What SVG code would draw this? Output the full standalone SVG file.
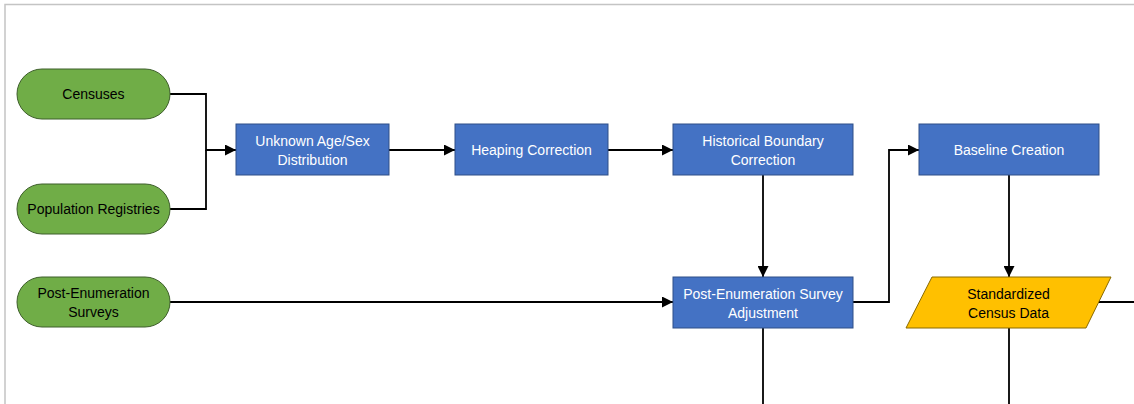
<svg xmlns="http://www.w3.org/2000/svg" width="1134" height="404" viewBox="0 0 1134 404">
<style>
.bg{fill:#ffffff}
.frame{fill:none;stroke:#c4c4c4;stroke-width:1.5}
.term{fill:#70ad47;stroke:#3d5e2a;stroke-width:1}
.proc{fill:#4472c4;stroke:#2f4f87;stroke-width:1}
.data{fill:#ffc000;stroke:#8a6a00;stroke-width:1}
.tb{font-family:"Liberation Sans",Arial,sans-serif;font-size:14px;fill:#000000;text-anchor:middle}
.tw{font-family:"Liberation Sans",Arial,sans-serif;font-size:14px;fill:#ffffff;text-anchor:middle}
.conn{fill:none;stroke:#000000;stroke-width:1.8}
</style>
<defs>
<marker id="arr" viewBox="0 0 10 10" refX="10" refY="5" markerWidth="11" markerHeight="11" markerUnits="userSpaceOnUse" orient="auto">
<path d="M0,0 L10,5 L0,10 Z" fill="#000000"/>
</marker>
</defs>
<rect class="bg" x="0" y="0" width="1134" height="404"/>
<path class="frame" d="M5,404 L5,4.5 L1134,4.5"/>
<g id="connectors">
<path class="conn" d="M170,94 H206 V150 H236" marker-end="url(#arr)"/>
<path class="conn" d="M170,209 H206 V150"/>
<path class="conn" d="M389,150 H455" marker-end="url(#arr)"/>
<path class="conn" d="M608,150 H673" marker-end="url(#arr)"/>
<path class="conn" d="M763,175 V277" marker-end="url(#arr)"/>
<path class="conn" d="M170,302 H673" marker-end="url(#arr)"/>
<path class="conn" d="M853,302 H889 V150 H919" marker-end="url(#arr)"/>
<path class="conn" d="M1009,175 V277" marker-end="url(#arr)"/>
<path class="conn" d="M1099,302 H1134"/>
<path class="conn" d="M763,328 V404"/>
<path class="conn" d="M1009,328 V404"/>
</g>
<g id="censuses">
<rect class="term" x="17" y="69" width="153" height="50" rx="25" ry="25"/>
<text class="tb" x="93.5" y="99">Censuses</text>
</g>
<g id="population-registries">
<rect class="term" x="17" y="184" width="153" height="50" rx="25" ry="25"/>
<text class="tb" x="93.5" y="214">Population Registries</text>
</g>
<g id="post-enumeration-surveys">
<rect class="term" x="17" y="277" width="153" height="50" rx="25" ry="25"/>
<text class="tb" x="93.5" y="297.5">Post-Enumeration</text>
<text class="tb" x="93.5" y="316.5">Surveys</text>
</g>
<g id="unknown-age-sex">
<rect class="proc" x="236" y="124" width="153" height="51"/>
<text class="tw" x="312.5" y="145.5">Unknown Age/Sex</text>
<text class="tw" x="312.5" y="164.5">Distribution</text>
</g>
<g id="heaping-correction">
<rect class="proc" x="455" y="124" width="153" height="51"/>
<text class="tw" x="531.5" y="155">Heaping Correction</text>
</g>
<g id="historical-boundary-correction">
<rect class="proc" x="673" y="124" width="180" height="51"/>
<text class="tw" x="763" y="145.5">Historical Boundary</text>
<text class="tw" x="763" y="164.5">Correction</text>
</g>
<g id="baseline-creation">
<rect class="proc" x="919" y="124" width="180" height="51"/>
<text class="tw" x="1009" y="155">Baseline Creation</text>
</g>
<g id="pes-adjustment">
<rect class="proc" x="673" y="277" width="180" height="51"/>
<text class="tw" x="763" y="298.5">Post-Enumeration Survey</text>
<text class="tw" x="763" y="317.5">Adjustment</text>
</g>
<g id="standardized-census-data">
<polygon class="data" points="932,277 1111,277 1086,328 906,328"/>
<text class="tb" x="1008.5" y="298.5">Standardized</text>
<text class="tb" x="1008.5" y="317.5">Census Data</text>
</g>
</svg>
